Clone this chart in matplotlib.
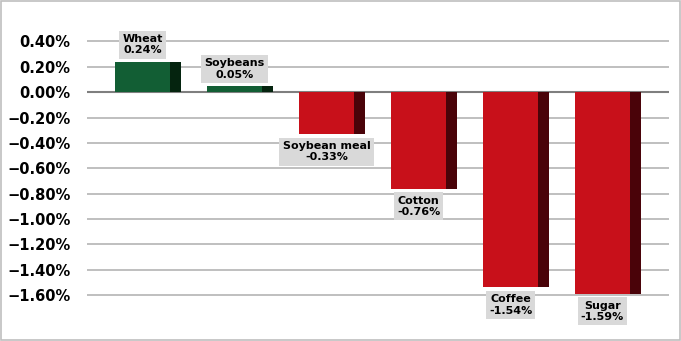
import numpy as np
import matplotlib.pyplot as plt
from matplotlib.ticker import PercentFormatter

categories = ["Wheat", "Soybeans", "Soybean meal", "Cotton", "Coffee", "Sugar"]
values = [0.24, 0.05, -0.33, -0.76, -1.54, -1.59]
yticks = [0.4, 0.2, 0.0, -0.2, -0.4, -0.6, -0.8, -1.0, -1.2, -1.4, -1.6]

green_face, green_side = "#125e34", "#05240f"
red_face, red_side = "#c8101a", "#4a0309"

fig = plt.figure(figsize=(6.81, 3.41), dpi=100)
ax = fig.add_axes([0.1278, 0.1311, 0.8546, 0.751])

face_w = 0.6
side_w = 0.12
# front face shifted left so face + dark side sit centred on the category
x = np.arange(len(categories)) - side_w / 2
face_c = [green_face if v >= 0 else red_face for v in values]
side_c = [green_side if v >= 0 else red_side for v in values]

ax.bar(x, values, width=face_w, color=face_c, zorder=3)
ax.bar(x + face_w / 2 + side_w / 2, values, width=side_w, color=side_c, zorder=3)

box = dict(boxstyle="square,pad=0.3", fc="#d9d9d9", ec="none")
for xi, name, v in zip(x, categories, values):
    txt = f"{name}\n{v:.2f}%"
    if v >= 0:
        ax.text(xi, v + 0.05, txt, ha="center", va="bottom", fontsize=8,
                fontweight="bold", linespacing=1.15, zorder=4, clip_on=False, bbox=box)
    else:
        ax.text(xi, v - 0.055, txt, ha="center", va="top", fontsize=8,
                fontweight="bold", linespacing=1.15, zorder=4, clip_on=False, bbox=box)

ax.set_xlim(-0.663, 5.663)
ax.set_ylim(-1.61, 0.41)
ax.set_yticks(yticks)
ax.yaxis.set_major_formatter(PercentFormatter(decimals=2))
ax.set_xticks([])
ax.tick_params(axis="y", length=0, pad=12, labelsize=10.5)
for lab in ax.get_yticklabels():
    lab.set_fontweight("bold")
ax.grid(axis="y", color="#bfbfbf", linewidth=1.4, zorder=0)
ax.axhline(0, color="#7f7f7f", linewidth=1.5, zorder=2)
for s in ax.spines.values():
    s.set_visible(False)

fig.patches.append(plt.Rectangle((0.001, 0.002), 0.997, 0.995, transform=fig.transFigure,
                                 fill=False, ec="#bfbfbf", lw=1.2))

fig.savefig("out.png", dpi=100)
